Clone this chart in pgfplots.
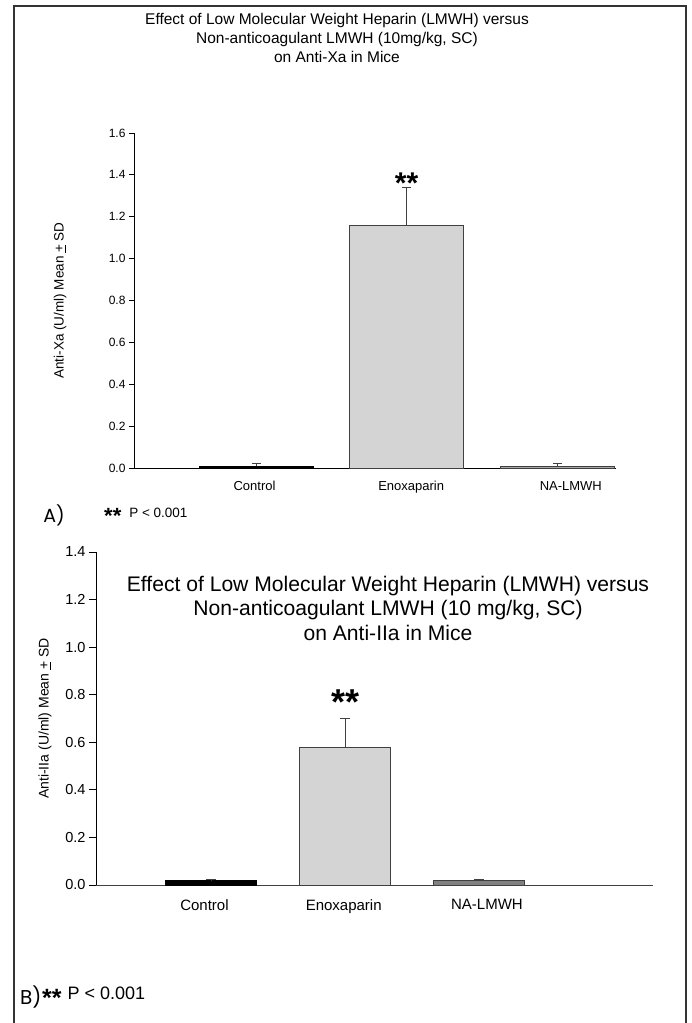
\documentclass[border=0pt]{standalone}
\usepackage{fontspec}
\setmainfont{Liberation Sans}
\newfontfamily\geo{Poppins}
\usepackage{pgfplots}
\pgfplotsset{compat=1.18}
\definecolor{enox}{HTML}{D4D4D4}
\definecolor{edge}{HTML}{404040}
\definecolor{nagray}{HTML}{808080}
\definecolor{nalight}{HTML}{A8A8A8}
\definecolor{framec}{HTML}{333333}

\begin{document}
\begin{tikzpicture}
\useasboundingbox (0pt,0pt) rectangle (692pt,1023pt);
\draw[framec, line width=1.6pt] (14pt,0pt) -- (14pt,1017pt) -- (686pt,1017pt) -- (686pt,0pt);

% ---------------- Panel A ----------------
\node[align=center, font=\fontsize{15.5}{19}\selectfont] at (337pt,985pt)
  {Effect of Low Molecular Weight Heparin (LMWH) versus\\Non-anticoagulant LMWH (10mg/kg, SC)\\on Anti-Xa in Mice};

\begin{axis}[
  at={(134pt,555pt)}, anchor=south west,
  scale only axis, width=482pt, height=335pt,
  xmin=-0.81, xmax=2.39, ymin=0, ymax=1.6,
  axis lines=left, axis line style={-, line width=0.8pt},
  ytick={0,0.2,0.4,0.6,0.8,1.0,1.2,1.4,1.6},
  /pgf/number format/assume math mode=true,
  yticklabel style={/pgf/number format/fixed, /pgf/number format/fixed zerofill, /pgf/number format/precision=1, font=\fontsize{12}{12}\selectfont},
  tick align=outside, major tick length=5pt,
  ytick style={line width=0.8pt, black},
  xtick={-0.01,1.03,2.09}, xticklabels={Control,Enoxaparin,NA-LMWH},
  xtick style={draw=none},
  xticklabel style={font=\fontsize{13}{14}\selectfont, yshift=-5pt},
  ylabel={Anti-Xa (U/ml) Mean \underline{+} SD},
  ylabel style={at={(axis description cs:-0.1535,0.5)}, anchor=center, font=\fontsize{13.5}{14}\selectfont},
  clip=false,
]
\addplot[ybar, bar shift=0pt, bar width=0.76, fill=black, draw=black,
  error bars/.cd, y dir=plus, y explicit,
  error bar style={draw=edge, line width=0.8pt},
  error mark options={rotate=90, draw=edge, mark size=4.5pt, line width=0.8pt}]
  coordinates {(0,0.01) +- (0,0.01)};
\addplot[ybar, bar shift=0pt, bar width=0.76, fill=enox, draw=edge, line width=0.8pt,
  error bars/.cd, y dir=plus, y explicit,
  error bar style={draw=edge, line width=0.8pt},
  error mark options={rotate=90, draw=edge, mark size=4.5pt, line width=0.8pt}]
  coordinates {(1,1.16) +- (0,0.18)};
\addplot[ybar, bar shift=0pt, bar width=0.76, fill=nalight, draw=edge, line width=0.8pt,
  error bars/.cd, y dir=plus, y explicit,
  error bar style={draw=edge, line width=0.8pt},
  error mark options={rotate=90, draw=edge, mark size=4.5pt, line width=0.8pt}]
  coordinates {(2,0.01) +- (0,0.01)};
\node[anchor=north, inner sep=0pt, font=\fontsize{30}{30}\selectfont\bfseries] at (axis cs:1,1.41) {**};
\end{axis}

\node[font=\geo\fontsize{19}{19}\selectfont] at (54pt,508pt) {A)};
\node[anchor=west, inner sep=0pt] at (104pt,507pt)
  {\raisebox{-6pt}{\fontsize{22}{22}\selectfont\bfseries **}\hspace{8pt}{\fontsize{13.5}{14}\selectfont P < 0.001}};

% ---------------- Panel B ----------------
\node[align=center, font=\fontsize{21.1}{24.5}\selectfont] at (388pt,415pt)
  {Effect of Low Molecular Weight Heparin (LMWH) versus\\Non-anticoagulant LMWH (10 mg/kg, SC)\\on Anti-IIa in Mice};

\begin{axis}[
  at={(96pt,138pt)}, anchor=south west,
  scale only axis, width=557pt, height=333pt,
  xmin=-0.86, xmax=3.30, ymin=0, ymax=1.4,
  axis lines=left, axis line style={-, line width=0.8pt},
  x axis line style={draw=edge},
  ytick={0,0.2,0.4,0.6,0.8,1.0,1.2,1.4},
  /pgf/number format/assume math mode=true,
  yticklabel style={/pgf/number format/fixed, /pgf/number format/fixed zerofill, /pgf/number format/precision=1, font=\fontsize{14.5}{15}\selectfont},
  tick align=outside, major tick length=7pt,
  ytick style={line width=0.8pt, black},
  xtick={-0.05,0.99,2.06}, xticklabels={Control,Enoxaparin,NA-LMWH},
  xtick style={draw=none},
  xticklabel style={font=\fontsize{15}{16}\selectfont, yshift=-4pt},
  ylabel={Anti-IIa (U/ml) Mean \underline{+} SD},
  ylabel style={at={(axis description cs:-0.0916,0.5)}, anchor=center, font=\fontsize{14}{15}\selectfont},
  clip=false,
]
\addplot[ybar, bar shift=0pt, bar width=0.68, fill=black, draw=black,
  error bars/.cd, y dir=plus, y explicit,
  error bar style={draw=edge, line width=0.8pt},
  error mark options={rotate=90, draw=edge, mark size=5pt, line width=0.8pt}]
  coordinates {(0,0.02) +- (0,0.002)};
\addplot[ybar, bar shift=0pt, bar width=0.68, fill=enox, draw=edge, line width=0.8pt,
  error bars/.cd, y dir=plus, y explicit,
  error bar style={draw=edge, line width=0.8pt},
  error mark options={rotate=90, draw=edge, mark size=5pt, line width=0.8pt}]
  coordinates {(1,0.58) +- (0,0.12)};
\addplot[ybar, bar shift=0pt, bar width=0.68, fill=nagray, draw=edge, line width=0.8pt,
  error bars/.cd, y dir=plus, y explicit,
  error bar style={draw=edge, line width=0.8pt},
  error mark options={rotate=90, draw=edge, mark size=5pt, line width=0.8pt}]
  coordinates {(2,0.02) +- (0,0.002)};
\node[anchor=north, inner sep=0pt, font=\fontsize{36}{36}\selectfont\bfseries] at (axis cs:1,0.82) {**};
\end{axis}

\node[font=\geo\fontsize{20}{20}\selectfont, anchor=west, inner sep=0pt] at (20pt,26pt) {B)};
\node[anchor=west, inner sep=0pt] at (42pt,26pt)
  {\raisebox{-7pt}{\fontsize{25}{25}\selectfont\bfseries **}\hspace{6pt}{\fontsize{18}{18}\selectfont P < 0.001}};
\end{tikzpicture}
\end{document}
